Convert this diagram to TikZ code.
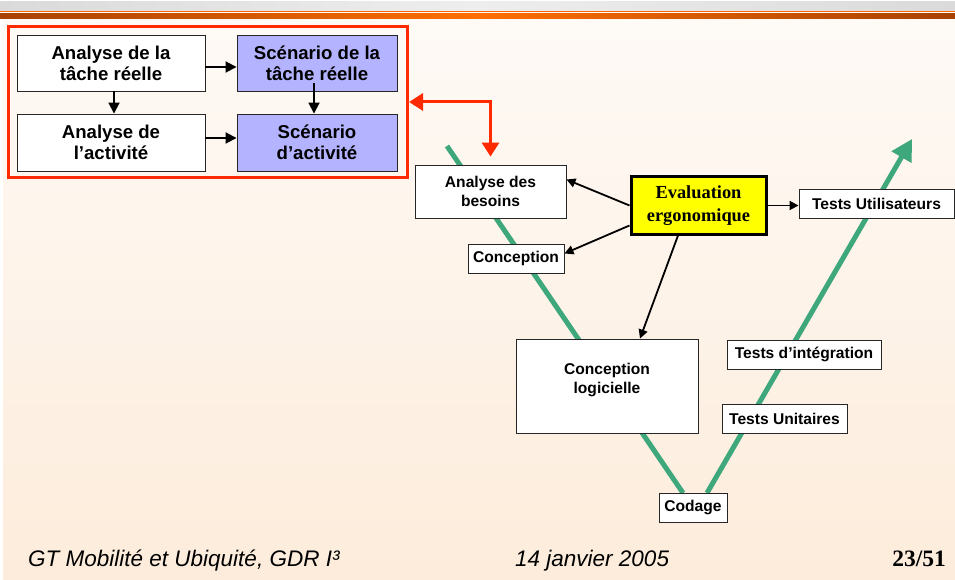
\documentclass[tikz,border=0pt]{standalone}
\usepackage{fontspec}
\setmainfont{Liberation Sans}
\newfontfamily\timesf{Liberation Serif}
\usetikzlibrary{arrows.meta}
\definecolor{bgtop}{RGB}{254,250,246}
\definecolor{bgbot}{RGB}{253,236,219}
\definecolor{hgrayA}{RGB}{218,218,218}
\definecolor{hgrayB}{RGB}{238,238,238}
\definecolor{horange}{RGB}{255,102,0}
\definecolor{hdark}{RGB}{168,66,0}
\definecolor{hbright}{RGB}{255,110,0}
\definecolor{lav}{RGB}{179,179,255}
\definecolor{vgreen}{RGB}{62,167,124}
\definecolor{fred}{RGB}{255,42,0}
\definecolor{eyellow}{RGB}{255,255,0}
\tikzset{
  box/.style={draw=black!85, fill=white, line width=0.9pt, align=center, inner sep=0pt},
  bigtxt/.style={font=\bfseries\fontsize{18.6}{21}\selectfont},
  smalltxt/.style={font=\bfseries\fontsize{15.6}{19}\selectfont},
  blk/.style={draw=black, line width=1.8pt, -{Triangle[length=9pt,width=9pt]}},
  blkbig/.style={draw=black, line width=1.8pt, -{Triangle[length=11pt,width=11pt]}},
  vline/.style={draw=vgreen, line width=5pt},
  redarr/.style={draw=fred, line width=3pt, {Triangle[length=14pt,width=17pt]}-{Triangle[length=14pt,width=17pt]}},
  foot/.style={anchor=base west, inner sep=0pt, font=\itshape\fontsize{22.5}{26}\selectfont}
}
\begin{document}
\begin{tikzpicture}[x=1pt,y=-1pt]
\useasboundingbox (0,0) rectangle (955,580);
% background
\fill[white] (0,0) rectangle (955,580);
\shade[top color=bgtop, bottom color=bgbot] (3,19) rectangle (955,580);
% header
\shade[left color=hgrayA, right color=hgrayA, middle color=hgrayB] (0,2) rectangle (955,11);
\fill[horange] (0,11) rectangle (955,12.3);
\shade[left color=hdark, right color=hdark, middle color=hbright] (0,13.7) rectangle (955,19);

% green V
\coordinate (vtl) at (447,146);
\coordinate (vbl) at (683,493);
\coordinate (vbr) at (707,493);
\coordinate (vtip) at (912,139);
\draw[vline] (vtl) -- (vbl);
\draw[vline, -{Triangle[length=21pt,width=22pt]}] (vbr) -- (vtip);

% frame
\node[draw=fred, line width=3pt, minimum width=399pt, minimum height=151pt, inner sep=0pt] (frame) at (208,102) {};

% frame boxes
\node[box, bigtxt, minimum width=188pt, minimum height=56pt] (a1) at (111,63) {Analyse de la\\tâche réelle};
\node[box, bigtxt, fill=lav, minimum width=160pt, minimum height=56pt] (s1) at (317,63) {Scénario de la\\tâche réelle};
\node[box, bigtxt, minimum width=188pt, minimum height=57pt] (a2) at (111,142.5) {Analyse de\\l’activité};
\node[box, bigtxt, fill=lav, minimum width=160pt, minimum height=57pt] (s2) at (317,142.5) {Scénario\\d’activité};

\draw[blkbig] ([yshift=-4pt]a1.east) -- ([yshift=-4pt]s1.west);
\draw[blkbig] ([yshift=4.5pt]a2.east) -- ([yshift=4.5pt]s2.west);
\draw[blkbig] ([xshift=3pt]a1.south) -- ([xshift=3pt]a2.north);
\draw[blkbig] ([xshift=-3pt,yshift=8pt]s1.south) -- ([xshift=-3pt]s2.north);

% V-model boxes
\node[box, smalltxt, minimum width=151pt, minimum height=53pt] (bes) at (490.5,191.5) {Analyse des\\besoins};
\node[box, smalltxt, minimum width=96pt, minimum height=29pt] (conc) at (516,258.5) {Conception};
\node[box, draw=black, line width=3pt, fill=eyellow, minimum width=135pt, minimum height=57pt,
      font=\timesf\bfseries\fontsize{18.4}{23}\selectfont] (eval) at (698.5,205.5) {Evaluation\\ergonomique};
\node[box, smalltxt, minimum width=155pt, minimum height=29pt] (tu) at (876.5,203.5) {Tests Utilisateurs};
\node[box, minimum width=182pt, minimum height=94pt] (cl) at (607,386) {};
\node[smalltxt, align=center, inner sep=0pt] (cltext) at (607,380) {Conception\\logicielle};
\node[box, smalltxt, minimum width=154pt, minimum height=29pt] (ti) at (804,354.5) {Tests d’intégration};
\node[box, smalltxt, minimum width=125pt, minimum height=29pt] (tun) at (784.5,418.5) {Tests Unitaires};
\node[box, smalltxt, minimum width=68pt, minimum height=29pt] (cod) at (693,507.5) {Codage};

% arrows from evaluation
\draw[blk] (eval.west) -- ([yshift=12pt]bes.east);
\draw[blk] ([yshift=-20pt]eval.west) -- ([yshift=5pt]conc.east);
\draw[blk] ([xshift=-20.5pt]eval.south) -- ([xshift=33pt]cl.north);
\draw[blk] (eval.east) -- (eval.east -| tu.west);

% red double arrow
\draw[redarr] (frame.east) -| ([yshift=8pt]bes.north);

% footer
\node[foot] (ft1) at (28,566) {GT Mobilité et Ubiquité, GDR I³};
\node[foot] (ft2) at (515,566) {14 janvier 2005};
\node[anchor=base east, inner sep=0pt, font=\timesf\bfseries\fontsize{23.5}{26}\selectfont] (ft3) at (946,566) {23/51};
\end{tikzpicture}
\end{document}
